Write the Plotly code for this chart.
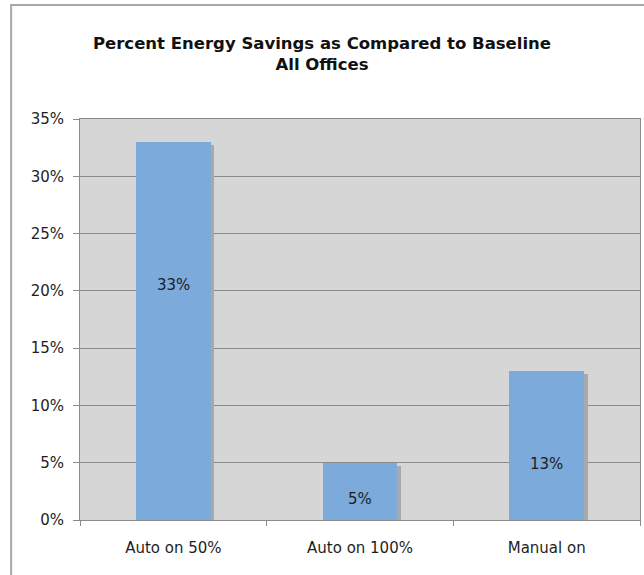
import plotly.graph_objects as go

# Chart data
categories = ["Auto on 50%", "Auto on 100%", "Manual on"]
savings = [33, 5, 13]                 # percent energy savings
label_heights = [20.5, 1.8, 4.9]      # where each value label sits (percent axis units)
y_ticks = [0, 5, 10, 15, 20, 25, 30, 35]
y_tick_text = [f"{v}%" for v in y_ticks]

BAR_COLOR = "#7baadb"
SHADOW_COLOR = "#a9a9a9"
PLOT_BG = "#d6d6d6"
GRID = "#8a8a8a"
TEXT = "#1e1e1e"
FONT = "DejaVu Sans"

fig = go.Figure()

# Soft drop shadow on the right of each bar
fig.add_trace(go.Bar(
    x=categories,
    y=[v - 0.3 for v in savings],
    width=0.4,
    offset=-0.18,
    marker=dict(color=SHADOW_COLOR, line=dict(width=0)),
    hoverinfo="skip",
    showlegend=False,
))

# Main bars
fig.add_trace(go.Bar(
    x=categories,
    y=savings,
    width=0.4,
    offset=-0.2,
    marker=dict(color=BAR_COLOR, line=dict(width=0)),
    showlegend=False,
))

# Value labels
for cat, val, h in zip(categories, savings, label_heights):
    fig.add_annotation(
        x=cat, y=h, text=f"{val}%", showarrow=False,
        font=dict(family=FONT, size=15, color=TEXT),
    )

# Outer chart frame (top and left edges visible)
fig.add_shape(
    type="rect", xref="paper", yref="paper",
    x0=-0.123, x1=1.2, y0=-0.3, y1=1.284,
    line=dict(color="#a8a8a8", width=2), fillcolor="rgba(0,0,0,0)",
    layer="below",
)

fig.update_layout(
    width=644, height=575,
    margin=dict(l=80, r=4, t=119, b=55),
    paper_bgcolor="white",
    plot_bgcolor=PLOT_BG,
    barmode="overlay",
    bargap=0,
    title=dict(
        text="<b>Percent Energy Savings as Compared to Baseline<br>All Offices</b>",
        x=0.5, xanchor="center", xref="container",
        y=1 - 49 / 575, yanchor="top", yref="container",
        font=dict(family=FONT, size=16.5, color="#111111"),
    ),
    xaxis=dict(
        type="category",
        tickson="boundaries",
        ticks="outside", ticklen=5, tickcolor=GRID,
        ticklabelstandoff=14,
        showgrid=False,
        showline=True, linecolor=GRID, linewidth=1, mirror=True,
        tickfont=dict(family=FONT, size=15, color=TEXT),
    ),
    yaxis=dict(
        range=[0, 35],
        tickmode="array", tickvals=y_ticks, ticktext=y_tick_text,
        ticks="outside", ticklen=6, tickcolor=GRID,
        ticklabelstandoff=6,
        showgrid=True, gridcolor=GRID, gridwidth=1,
        showline=True, linecolor=GRID, linewidth=1, mirror=True,
        zeroline=False,
        tickfont=dict(family=FONT, size=15, color=TEXT),
    ),
    font=dict(family=FONT),
)

fig.write_html("out.html")
